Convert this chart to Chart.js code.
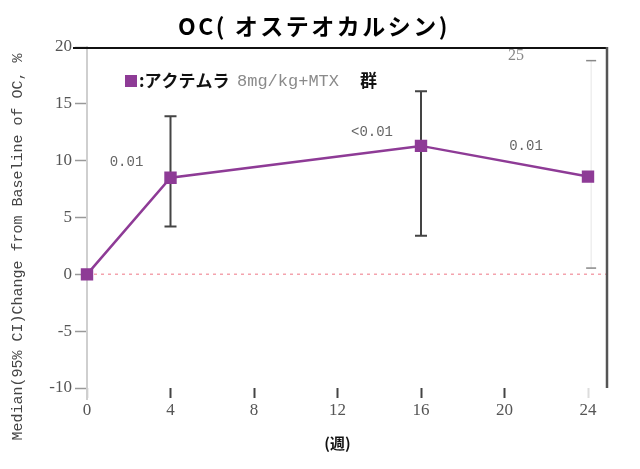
<!DOCTYPE html>
<html><head><meta charset="utf-8">
<script src="https://cdn.jsdelivr.net/npm/chart.js@4.4.1/dist/chart.umd.min.js"></script>
<style>html,body{margin:0;padding:0;background:#fff;}canvas{display:block}</style>
</head><body>
<canvas id="c" width="640" height="469"></canvas>
<script>
const weeks = [0, 4, 16, 24];
const medianChange = [0, 8.5, 11.3, 8.6];
const ciLower = [null, 4.2, 3.4, null];
const ciUpper = [null, 13.9, 16.1, null];
const pValues = ['', '0.01', '<0.01', '0.01'];
const xTicks = [0, 4, 8, 12, 16, 20, 24];
const yTicks = [-10, -5, 0, 5, 10, 15, 20];
const titleText = 'OC( オステオカルシン)';
const xTitle = '(週)';
const yTitle = 'Median(95% CI)Change from Baseline of OC, %';
const legendParts = [':アクテムラ', '8mg/kg+MTX', '群'];
const ghostBar = { x: 24.15, low: 0.55, high: 18.8, label: '25' };

const PURPLE = '#8E3B96';
const pOffsets = [[0, 0], [-44, -15], [-49, -14], [-62, -30]];

const decor = {
  id: 'decor',
  beforeDatasetsDraw(chart) {
    const { ctx, chartArea: a, scales: { x, y } } = chart;
    ctx.save();
    ctx.strokeStyle = '#f4a3ad';
    ctx.lineWidth = 1.5;
    ctx.setLineDash([3, 4]);
    ctx.beginPath();
    ctx.moveTo(a.left, y.getPixelForValue(0));
    ctx.lineTo(606, y.getPixelForValue(0));
    ctx.stroke();
    ctx.setLineDash([]);
    ctx.strokeStyle = '#cfcfcf';
    ctx.lineWidth = 2;
    ctx.beginPath();
    ctx.moveTo(a.left, a.bottom);
    ctx.lineTo(a.left, a.bottom + 12);
    ctx.stroke();
    const gx = x.getPixelForValue(ghostBar.x);
    ctx.strokeStyle = '#e6e6e6';
    ctx.lineWidth = 1;
    ctx.beginPath();
    ctx.moveTo(gx, y.getPixelForValue(ghostBar.high));
    ctx.lineTo(gx, y.getPixelForValue(ghostBar.low));
    ctx.stroke();
    ctx.strokeStyle = '#888';
    ctx.lineWidth = 1.5;
    [ghostBar.high, ghostBar.low].forEach(v => {
      const py = y.getPixelForValue(v);
      ctx.beginPath(); ctx.moveTo(gx - 5, py); ctx.lineTo(gx + 5, py); ctx.stroke();
    });
    ctx.strokeStyle = '#444';
    ctx.lineWidth = 2;
    weeks.forEach((w, i) => {
      if (ciLower[i] == null) return;
      const px = x.getPixelForValue(w);
      const y1 = y.getPixelForValue(ciLower[i]);
      const y2 = y.getPixelForValue(ciUpper[i]);
      ctx.beginPath();
      ctx.moveTo(px, y1); ctx.lineTo(px, y2);
      ctx.moveTo(px - 6, y1); ctx.lineTo(px + 6, y1);
      ctx.moveTo(px - 6, y2); ctx.lineTo(px + 6, y2);
      ctx.stroke();
    });
    ctx.restore();
  },
  afterDraw(chart) {
    const { ctx, chartArea: a, scales: { x, y } } = chart;
    ctx.save();
    ctx.fillStyle = '#000';
    ctx.font = 'bold 23px "Noto Sans CJK JP"';
    ctx.textAlign = 'center';
    ctx.textBaseline = 'middle';
    ctx.letterSpacing = '2.5px';
    ctx.fillText(titleText, 314, 26);
    ctx.letterSpacing = '0px';
    ctx.strokeStyle = '#111';
    ctx.lineWidth = 2;
    ctx.beginPath();
    ctx.moveTo(73, 48); ctx.lineTo(607, 48);
    ctx.stroke();
    ctx.strokeStyle = '#555';
    ctx.lineWidth = 2.5;
    ctx.beginPath();
    ctx.moveTo(607, 47); ctx.lineTo(607, 388);
    ctx.stroke();
    ctx.fillStyle = '#888';
    ctx.font = '16px "Liberation Serif"';
    ctx.fillText(ghostBar.label, 516, 56);
    ctx.save();
    ctx.translate(18, 247);
    ctx.rotate(-Math.PI / 2);
    ctx.fillStyle = '#444';
    ctx.font = '15px "Liberation Mono"';
    ctx.fillText(yTitle, 0, 0);
    ctx.restore();
    ctx.fillStyle = '#666';
    ctx.font = '14px "Liberation Mono"';
    weeks.forEach((w, i) => {
      if (!pValues[i]) return;
      const px = x.getPixelForValue(w) + pOffsets[i][0];
      const py = y.getPixelForValue(medianChange[i]) + pOffsets[i][1];
      ctx.fillText(pValues[i], px, py);
    });
    const ly = 81;
    ctx.fillStyle = PURPLE;
    ctx.fillRect(125, ly - 6, 12, 12);
    ctx.textAlign = 'left';
    ctx.fillStyle = '#111';
    ctx.font = 'bold 17px "Noto Sans CJK JP"';
    ctx.fillText(legendParts[0], 139, ly);
    ctx.fillStyle = '#8a8a8a';
    ctx.font = '17px "Liberation Mono"';
    ctx.fillText(legendParts[1], 237, ly);
    ctx.fillStyle = '#111';
    ctx.font = 'bold 17px "Noto Sans CJK JP"';
    ctx.fillText(legendParts[2], 360, ly);
    ctx.restore();
  }
};

new Chart(document.getElementById('c'), {
  type: 'line',
  data: {
    datasets: [{
      data: weeks.map((w, i) => ({ x: w, y: medianChange[i] })),
      borderColor: PURPLE,
      backgroundColor: PURPLE,
      borderWidth: 2.5,
      pointStyle: 'rect',
      pointRadius: 7,
      pointHoverRadius: 7,
      pointBackgroundColor: PURPLE,
      pointBorderColor: PURPLE,
      tension: 0,
      clip: false
    }]
  },
  options: {
    responsive: false,
    animation: false,
    layout: { padding: { left: 0, right: 52, top: 47, bottom: 0 } },
    plugins: {
      legend: { display: false },
      tooltip: { enabled: false },
      title: { display: false }
    },
    scales: {
      x: {
        type: 'linear',
        min: 0, max: 24,
        afterBuildTicks: s => { s.ticks = xTicks.map(v => ({ value: v })); },
        afterFit: s => { s.height = 81; },
        border: { display: false },
        grid: {
          drawOnChartArea: false,
          tickLength: 10,
          tickWidth: 2,
          tickColor: c => (c.index === 0 || c.index === xTicks.length - 1) ? '#dddddd' : '#444'
        },
        ticks: {
          padding: 2,
          color: '#555',
          font: { family: '"Liberation Serif"', size: 17 },
          maxRotation: 0
        },
        title: {
          display: true,
          text: xTitle,
          color: '#111',
          font: { family: '"Noto Sans CJK JP"', size: 15, weight: 'bold', lineHeight: 1.2 },
          padding: { top: 0, bottom: 17 }
        }
      },
      y: {
        min: -10, max: 20,
        afterBuildTicks: s => { s.ticks = yTicks.map(v => ({ value: v })); },
        afterFit: s => { s.width = 87; },
        border: { display: true, color: '#cfcfcf', width: 2 },
        grid: {
          drawOnChartArea: false,
          tickLength: 12,
          tickWidth: 1.5,
          tickColor: '#999'
        },
        ticks: {
          padding: 3,
          color: '#555',
          font: { family: '"Liberation Serif"', size: 17 }
        }
      }
    }
  },
  plugins: [decor]
});
</script>
</body></html>
